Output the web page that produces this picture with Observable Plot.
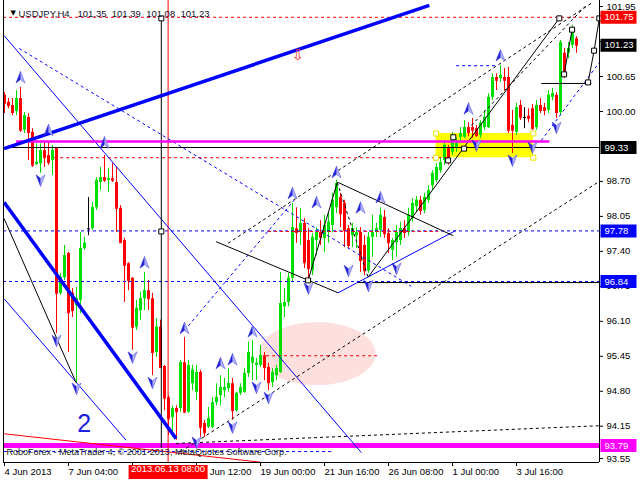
<!DOCTYPE html>
<html>
<head>
<meta charset="utf-8">
<script src="https://cdn.jsdelivr.net/npm/d3@7"></script>
<script src="https://cdn.jsdelivr.net/npm/@observablehq/plot@0.6"></script>
<style>
  html, body { margin: 0; padding: 0; background: #fff; }
  #chart svg { display: block; }
</style>
</head>
<body>
<div id="chart"></div>
<script>
// ---------- Candles: USDJPY H4, bar index 0..143 ----------
const opens = [100.30,100.17,100.11,100.00,100.24,99.65,99.89,99.61,99.01,99.03,
 99.27,99.18,99.09,99.31,96.62,96.91,97.36,96.62,96.39,96.49,
 97.45,97.82,97.82,98.21,98.68,98.77,98.72,98.75,98.68,98.20,
 97.60,97.17,96.90,95.99,96.30,96.52,96.67,96.52,95.52,95.99,
 95.26,94.68,94.31,94.48,94.48,95.33,94.41,94.94,94.78,95.15,
 94.20,94.13,94.13,94.59,94.72,94.81,94.85,94.94,94.44,94.76,
 94.78,95.13,95.32,95.28,95.28,95.46,95.24,94.96,95.09,95.15,
 96.37,96.45,96.90,97.82,97.75,97.92,97.60,97.04,97.60,97.75,
 97.64,97.75,97.88,98.21,98.40,98.29,97.82,97.69,97.69,97.75,
 97.51,97.04,97.66,97.75,97.79,98.03,97.73,97.42,97.56,97.60,
 97.82,97.75,98.01,98.23,98.35,98.16,98.35,98.62,98.72,98.90,
 99.09,99.33,99.24,99.31,99.52,99.52,99.70,99.70,99.68,99.55,
 99.70,99.70,100.26,100.63,100.61,100.63,100.63,99.74,99.61,100.11,
 99.89,99.91,100.05,99.70,100.11,100.07,100.02,100.26,100.30,99.98,
 101.08,101.08,101.23,101.35];
const highs = [100.35,100.24,100.24,100.39,100.45,99.98,99.96,99.68,99.40,99.40,
 99.42,99.42,99.37,99.31,96.99,97.51,97.38,96.71,96.73,97.75,
 97.66,98.40,98.31,98.77,98.96,99.18,98.94,99.03,98.96,98.25,
 97.64,97.19,96.91,96.49,96.64,97.01,96.86,96.62,96.15,96.12,
 95.28,94.72,94.53,94.53,95.37,95.80,95.37,95.28,95.28,95.19,
 94.26,94.50,94.68,94.94,95.09,95.04,95.22,95.04,94.78,94.94,
 95.22,95.71,95.74,95.41,95.65,95.52,95.32,95.22,95.28,97.01,
 96.71,96.99,98.29,98.21,98.20,98.01,97.82,97.73,97.84,97.97,
 98.07,98.10,98.48,98.72,98.48,98.35,97.88,97.92,97.84,97.84,
 97.69,97.75,98.07,97.92,98.21,98.16,97.82,97.64,97.88,97.94,
 97.97,98.20,98.38,98.42,98.42,98.48,98.62,98.90,99.03,99.14,
 99.46,99.37,99.61,99.50,99.70,99.83,99.79,99.87,99.74,99.83,
 100.02,100.33,100.70,100.70,100.85,100.80,100.82,100.02,100.15,100.20,
 100.07,100.05,100.13,100.20,100.24,100.15,100.39,100.43,100.35,101.32,
 101.17,101.28,101.60,101.39];
const lows = [99.96,100.05,99.92,99.92,99.61,99.59,99.09,98.96,99.00,98.85,
 98.96,99.00,98.81,95.87,96.58,96.86,95.52,96.17,94.96,96.24,
 97.42,97.69,97.79,98.16,98.53,98.68,98.49,98.68,97.75,97.55,
 96.45,96.67,95.56,95.93,96.12,96.30,96.30,95.09,95.43,95.24,
 94.44,93.98,93.94,93.89,94.41,94.39,94.39,94.81,94.63,93.94,
 93.94,94.11,94.11,94.53,94.53,94.68,94.78,94.26,94.41,94.72,
 94.76,95.06,95.00,95.00,95.24,95.00,94.81,94.87,95.00,95.13,
 96.17,96.37,96.82,97.55,97.51,97.08,96.90,96.95,97.32,97.51,
 97.38,97.55,97.75,98.10,97.84,97.47,97.45,97.47,97.45,97.01,
 96.95,96.99,97.29,97.66,97.66,97.64,97.36,97.23,97.29,97.51,
 97.64,97.68,97.94,98.12,98.07,98.10,98.29,98.53,98.68,98.85,
 99.00,99.00,99.18,99.24,99.46,99.50,99.53,99.50,99.52,99.50,
 99.65,99.68,100.20,100.39,100.54,100.39,99.59,99.22,99.55,99.83,
 99.68,99.79,99.65,99.65,99.96,99.92,99.96,100.20,99.87,99.92,
 100.61,100.98,101.17,101.08];
const closes = [100.15,100.11,99.98,100.24,99.65,99.92,99.61,99.00,99.05,99.27,
 99.14,99.05,99.27,96.62,96.91,97.32,96.26,96.30,96.52,97.45,
 97.55,97.82,98.21,98.72,98.77,98.72,98.75,98.72,98.20,97.56,
 97.14,96.86,95.99,96.34,96.52,96.67,96.52,95.52,95.99,95.24,
 94.67,94.29,94.48,94.42,95.33,94.41,95.28,95.19,95.15,94.13,
 94.03,94.29,94.59,94.68,94.87,94.87,94.94,94.44,94.76,94.87,
 95.13,95.52,95.43,95.32,95.46,95.24,94.96,95.15,95.22,96.43,
 96.45,96.90,97.84,97.75,97.92,97.19,97.08,97.66,97.75,97.66,
 97.88,97.94,98.35,98.66,98.10,97.79,97.51,97.82,97.75,97.23,
 97.04,97.66,97.75,97.82,98.07,97.73,97.56,97.60,97.75,97.82,
 97.75,98.07,98.29,98.35,98.16,98.40,98.53,98.85,98.96,99.05,
 99.37,99.05,99.52,99.40,99.59,99.70,99.61,99.65,99.55,99.78,
 99.89,100.26,100.63,100.58,100.67,100.58,99.65,99.65,100.07,99.89,
 99.89,99.87,99.68,100.11,100.02,100.02,100.30,100.33,99.98,101.28,
 100.70,101.17,101.50,101.23];

// ---------- Texts & axes ----------
const symbolTitle = "USDJPY,H4";
const lastQuote = [101.35, 101.39, 101.08, 101.23];
const watermark = "RoboForex - MetaTrader 4, \u00a9 2001-2013, MetaQuotes Software Corp.";
const xTickBars = [0, 16, 32, 48, 64, 80, 96, 112, 128];
const xTickLabels = ["4 Jun 2013", "7 Jun 04:00", "", "14 Jun 12:00", "19 Jun 00:00",
                     "21 Jun 16:00", "26 Jun 08:00", "1 Jul 00:00", "3 Jul 16:00"];
const yTickValues = [101.95, 101.30, 100.65, 100.00, 98.70, 98.05, 97.40, 96.75,
                     96.10, 95.45, 94.80, 94.15, 93.55];
const crossBar = 40.9;
const crossLabel = "2013.06.13 08:00";
const waveLabels = [{bar: 19.9, price: 94.20, text: "2"}];
const markLabels = [{bar: 73.4, price: 101.04, text: "\u21e9"}];

// ---------- Price levels (full-width lines with axis boxes) ----------
const redDashedLevels = [101.75];
const bidLevels = [101.23];
const blackLevels = [99.33];
const blueDashedLevels = [97.78, 96.84];
const magentaLevels = [93.79];

// ---------- Objects: [bar1, price1, bar2, price2] ----------
const thickBlueSegs = [[-0.1, 99.31, 106.2, 101.97], [-0.1, 98.31, 42.9, 93.92]];
const thinBlueSegs = [[-0.1, 101.41, 89.2, 93.66], [-0.1, 96.52, 30.4, 93.89], [83.4, 96.63, 112.9, 97.79]];
const blueDashedSegs = [[3.7, 101.17, 101.7, 96.75], [45.0, 95.93, 72.4, 98.35], [134.2, 99.46, 148.7, 100.91],
                        [112.9, 100.85, 122.9, 100.85], [-0.1, 93.68, 81.7, 93.68]];
const blackSegs = [[-0.1, 98.01, 17.9, 94.96], [52.9, 97.58, 83.4, 96.63], [83.4, 98.68, 112.2, 97.69],
                   [75.9, 96.86, 83.2, 98.68], [90.9, 96.92, 138.7, 101.73], [139.9, 100.69, 141.9, 101.52],
                   [145.9, 100.54, 147.4, 101.13], [147.4, 101.13, 148.7, 101.73], [88.4, 96.82, 148.9, 96.82],
                   [134.2, 100.52, 146.7, 100.52], [39.2, 93.75, 39.2, 101.73]];
const blackDashedSegs = [[44.2, 93.68, 148.9, 98.71], [55.9, 97.55, 146.7, 102.01], [116.7, 99.74, 145.4, 101.97],
                         [83.2, 98.68, 90.9, 96.92], [42.9, 93.83, 148.9, 94.16]];
const redSegs = [[-0.1, 94.01, 64.2, 93.48]];
const redDashedSegs = [[12.4, 99.14, 110.9, 99.14], [65.9, 97.77, 108.4, 97.77], [65.4, 95.46, 93.7, 95.46]];
const magentaSegs = [[2.9, 99.44, 136.2, 99.44]];
const yellowZones = [[107.9, 99.14, 132.2, 99.59]];
const pinkZone = {bar: 78.3, price: 95.49, halfBars: 14.6, halfPrice: 0.585};

// ---------- Fractal arrows & anchor boxes ----------
const upArrowBars = [4, 11, 25, 35, 45, 54, 57, 62, 72, 78, 83, 89, 94, 116, 124];
const upArrowPrices = [100.63, 99.65, 99.42, 97.19, 95.97, 95.32, 95.39, 95.91, 98.48, 98.31, 98.87, 98.21, 98.40, 100.05, 101.04];
const downArrowBars = [9, 13, 18, 32, 37, 48, 57, 63, 66, 76, 86, 91, 98, 118, 127, 132, 138];
const downArrowPrices = [98.72, 95.74, 94.85, 95.43, 94.96, 93.85, 94.13, 94.87, 94.68, 96.71, 97.04, 96.76, 97.08, 99.37, 99.09, 99.33, 99.70];
const boxBars = [39.2, 39.2, 75.9, 110.9, 112.2, 114.9, 138.7, 139.9, 141.9, 145.9, 147.4, 148.7];
const boxPrices = [101.73, 97.77, 96.86, 99.09, 99.52, 99.31, 101.73, 100.69, 101.52, 100.54, 101.13, 101.73];

// ================= build =================
const xDomain = [-0.25, 148.75];
const yDomain = [93.476, 102.062];
const FONT = "Liberation Sans, Arial, sans-serif";

const candles = opens.map((o, i) => ({i, o, h: highs[i], l: lows[i], c: closes[i]}));
const candleColor = d => d.c > d.o ? "#00e000" : d.c < d.o ? "#ff0000" : "#000000";
const segOpts = {x1: d => d[0], y1: d => d[1], x2: d => d[2], y2: d => d[3], clip: true};
const link = (segs, o) => Plot.link(segs, {...segOpts, ...o});
const rectSym = (w, h) => ({draw(c) { c.rect(-w / 2, -h / 2, w, h); }});
const upL = {draw(c) { c.moveTo(0, -6); c.lineTo(0, 2); c.lineTo(-4.5, 5.5); c.closePath(); }};
const upR = {draw(c) { c.moveTo(0, -6); c.lineTo(4.5, 5.5); c.lineTo(0, 2); c.closePath(); }};
const dnL = {draw(c) { c.moveTo(0, 6); c.lineTo(0, -2); c.lineTo(-4.5, -5.5); c.closePath(); }};
const dnR = {draw(c) { c.moveTo(0, 6); c.lineTo(4.5, -5.5); c.lineTo(0, -2); c.closePath(); }};
const ups = upArrowBars.map((b, k) => ({b, p: upArrowPrices[k]}));
const dns = downArrowBars.map((b, k) => ({b, p: downArrowPrices[k]}));
const boxes = boxBars.map((b, k) => ({b, p: boxPrices[k]}));
const yellowCorners = yellowZones.flatMap(z => [[z[0], z[1]], [z[0], z[3]], [z[2], z[1]], [z[2], z[3]]]);
const ellipsePts = d3.range(0, 61).map(k => {
  const t = Math.PI * k / 60;
  return {x: pinkZone.bar - pinkZone.halfBars * Math.cos(t),
          y1: pinkZone.price - pinkZone.halfPrice * Math.sin(t),
          y2: pinkZone.price + pinkZone.halfPrice * Math.sin(t)};
});
const levelBoxes = [
  ...redDashedLevels.map(p => ({p, fill: "#ff0000"})),
  ...bidLevels.map(p => ({p, fill: "#000000"})),
  ...blackLevels.map(p => ({p, fill: "#000000"})),
  ...blueDashedLevels.map(p => ({p, fill: "#0000ff"})),
  ...magentaLevels.map(p => ({p, fill: "#ff00ff"}))
];
const titleText = symbolTitle + "\u00a0\u00a0\u00a0" + lastQuote.map(v => v.toFixed(2)).join("\u00a0 ");

const chart = Plot.plot({
  width: 640, height: 480,
  marginLeft: 3, marginRight: 41, marginTop: 0, marginBottom: 18,
  x: {domain: xDomain},
  y: {domain: yDomain},
  color: {type: "identity"},
  style: {fontFamily: FONT, fontSize: "9.5px", background: "#ffffff", color: "#000000"},
  marks: [
    // background zones
    Plot.areaY(ellipsePts, {x: "x", y1: "y1", y2: "y2", fill: "#fde0de"}),
    Plot.rect(yellowZones, {x1: d => d[0], y1: d => d[1], x2: d => d[2], y2: d => d[3], fill: "#ffff00"}),
    // candles
    Plot.ruleX(candles, {x: "i", y1: "l", y2: "h", stroke: candleColor, strokeWidth: 1}),
    Plot.ruleX(candles, {x: "i", y1: "o", y2: "c", stroke: candleColor, strokeWidth: 3}),
    Plot.dot(candles, {x: "i", y: "c", symbol: rectSym(3, 1), r: 1, fill: candleColor, stroke: null}),
    // levels
    Plot.ruleY(blueDashedLevels, {stroke: "#0000ff", strokeDasharray: "3,3"}),
    Plot.ruleY(blackLevels, {stroke: "#000000"}),
    Plot.ruleY(redDashedLevels, {stroke: "#ff0000", strokeDasharray: "3,3"}),
    Plot.ruleY(magentaLevels, {stroke: "#ff00ff", strokeWidth: 5}),
    Plot.ruleX([crossBar], {stroke: "#ff0000"}),
    // objects
    link(redSegs, {stroke: "#ff0000"}),
    link(redDashedSegs, {stroke: "#ff0000", strokeDasharray: "3,3"}),
    link(blueDashedSegs, {stroke: "#0000ff", strokeDasharray: "3,3"}),
    link(thinBlueSegs, {stroke: "#0000ff"}),
    link(blackDashedSegs, {stroke: "#000000", strokeDasharray: "3,3"}),
    link(blackSegs, {stroke: "#000000"}),
    link(magentaSegs, {stroke: "#ff00ff", strokeWidth: 2.5}),
    link(thickBlueSegs, {stroke: "#0000ff", strokeWidth: 3.5}),
    // arrows
    Plot.dot(ups, {x: "b", y: "p", symbol: upL, r: 5, fill: "#2424d8", stroke: "#2424d8", strokeWidth: 0.5}),
    Plot.dot(ups, {x: "b", y: "p", symbol: upR, r: 5, fill: "#b4b4fa", stroke: "#6a6ae8", strokeWidth: 0.7}),
    Plot.dot(dns, {x: "b", y: "p", symbol: dnL, r: 5, fill: "#2424d8", stroke: "#2424d8", strokeWidth: 0.5}),
    Plot.dot(dns, {x: "b", y: "p", symbol: dnR, r: 5, fill: "#b4b4fa", stroke: "#6a6ae8", strokeWidth: 0.7}),
    Plot.dot(boxes, {x: "b", y: "p", symbol: rectSym(5, 5), r: 3, fill: "#ffffff", stroke: "#000000", strokeWidth: 1}),
    Plot.dot(yellowCorners, {x: d => d[0], y: d => d[1], symbol: rectSym(5, 5), r: 3, fill: "#ffffff", stroke: "#e8e800", strokeWidth: 1}),
    // labels in chart
    Plot.text(waveLabels, {x: "bar", y: "price", text: "text", fontSize: 25, fill: "#2020e0"}),
    Plot.text(markLabels, {x: "bar", y: "price", text: "text", fontSize: 15, fill: "#ff3030", fontFamily: "DejaVu Sans"}),
    Plot.text([watermark], {text: d => d, frameAnchor: "bottom-left", dx: 3, dy: -8, textAnchor: "start", fontSize: 9, fill: "#1a1a1a"}),
    Plot.text(["\u25bc"], {text: d => d, frameAnchor: "top-left", dx: 7, dy: 10, fontSize: 7, fontFamily: "DejaVu Sans", fill: "#000"}),
    Plot.text([titleText], {text: d => d, frameAnchor: "top-left", dx: 15, dy: 10, textAnchor: "start", fontSize: 9.5, fill: "#101030"}),
    // borders
    Plot.ruleX([xDomain[0], xDomain[1]], {stroke: "#000"}),
    Plot.ruleY([yDomain[0]], {stroke: "#000"}),
    // axes
    Plot.axisX({ticks: xTickBars, tickFormat: d => xTickLabels[xTickBars.indexOf(d)], tickSize: 4, tickPadding: 2,
                textAnchor: "start", label: null, fontSize: 9.5}),
    Plot.axisY({ticks: yTickValues, anchor: "right", tickFormat: d => d.toFixed(2), tickSize: 3, tickPadding: 4,
                label: null, fontSize: 9.5}),
    // axis highlight boxes
    Plot.dot(levelBoxes, {y: "p", frameAnchor: "right", dx: 19, symbol: rectSym(36, 13), r: 5, fill: "fill", stroke: null}),
    Plot.text(levelBoxes, {y: "p", text: d => d.p.toFixed(2), frameAnchor: "right", dx: 5, textAnchor: "start", fill: "#ffffff", fontSize: 9.5}),
    Plot.dot([crossBar], {x: d => d, frameAnchor: "bottom", dy: 9.5, symbol: rectSym(79, 14), r: 5, fill: "#ff0000", stroke: null}),
    Plot.text([crossLabel], {x: () => crossBar, text: d => d, frameAnchor: "bottom", dy: 9.5, fill: "#ffffff", fontSize: 9.5})
  ]
});
document.getElementById("chart").appendChild(chart);
</script>
</body>
</html>
